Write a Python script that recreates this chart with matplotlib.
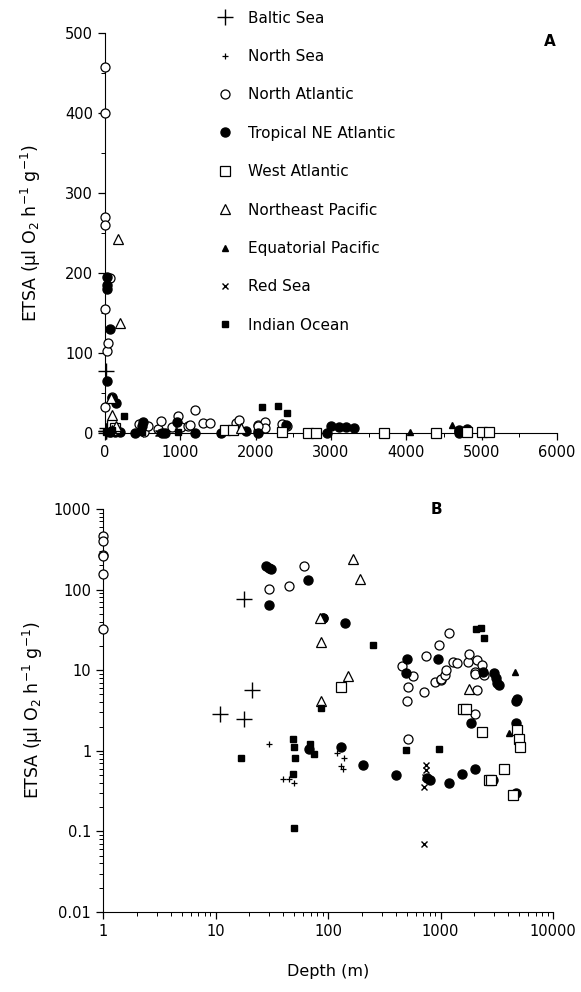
import numpy as np
import matplotlib.pyplot as plt
from matplotlib.ticker import MultipleLocator, FuncFormatter, NullFormatter

plt.rcParams['font.family'] = ['DejaVu Sans']

# data: depth (m) and ETSA (ul O2 h-1 g-1) per region
baltic_depth = [18, 11, 18, 21]
baltic_etsa = [77, 2.9, 2.5, 5.7]

northsea_depth = [30, 40, 45, 50, 120, 140, 130, 135]
northsea_etsa = [1.2, 0.45, 0.45, 0.40, 0.95, 0.82, 0.65, 0.6]

natl_depth = [1, 1, 1, 1, 1, 1, 30, 45, 61, 90, 455, 515, 505, 515, 570, 710, 740,
              890, 1000, 1010, 1100, 1130, 1190, 970, 1300, 1400, 1740, 1780, 2030,
              2130, 2350, 2420, 2030, 2130, 2030]
natl_etsa = [457, 400, 270, 260, 155, 32, 103, 112, 194, 45, 11.4, 6.2, 4.1, 1.4, 8.5,
             5.4, 15, 7.2, 7.5, 7.8, 8.8, 10.1, 29, 20.7, 12.7, 12.4, 12.7, 16, 9.6,
             13.5, 11.7, 8.8, 2.9, 5.7, 9.0]

trop_depth = [28, 30, 31, 30, 66, 68, 90, 141, 130, 205, 400, 495, 505, 760, 800, 950,
              1200, 1540, 1870, 2030, 2400, 2950, 3000, 3100, 3200, 3300, 4700, 4700,
              4800, 4700]
trop_etsa = [195, 185, 180, 65, 130, 1.05, 44, 38, 1.1, 0.67, 0.50, 9.3, 13.9, 0.46,
             0.44, 13.9, 0.40, 0.52, 2.2, 0.60, 9.6, 0.44, 9.3, 8.0, 7.0, 6.6, 2.2, 4.2,
             4.4, 0.30]

watl_depth = [130, 1590, 1700, 2350, 2700, 2800, 3700, 4400, 4800, 5000, 5100]
watl_etsa = [6.2, 3.3, 3.3, 1.72, 0.44, 0.44, 0.60, 0.28, 1.82, 1.41, 1.13]

nepac_depth = [167, 193, 85, 87, 150, 87, 1800]
nepac_etsa = [243, 137, 44, 22.6, 8.5, 4.1, 5.9]

eqpac_depth = [4050, 4600]
eqpac_etsa = [1.67, 9.6]

redsea_depth = [710, 740, 720, 730, 745]
redsea_etsa = [0.07, 0.67, 0.36, 0.47, 0.57]

indian_depth = [17, 49, 50, 51, 49, 50, 69, 75, 87, 250, 495, 975, 2080, 2300, 2420]
indian_etsa = [0.82, 1.41, 1.12, 0.82, 0.52, 0.11, 1.22, 0.92, 3.4, 20.7, 1.03, 1.06,
               32, 33.8, 25.4]

series = [
    ('Baltic Sea', baltic_depth, baltic_etsa, dict(marker='+', ms=11, mew=1.0, color='k')),
    ('North Sea', northsea_depth, northsea_etsa, dict(marker='+', ms=4, mew=0.9, color='k')),
    ('North Atlantic', natl_depth, natl_etsa, dict(marker='o', ms=6.5, mfc='white', mec='k', mew=0.9)),
    ('Tropical NE Atlantic', trop_depth, trop_etsa, dict(marker='o', ms=6.5, color='k')),
    ('West Atlantic', watl_depth, watl_etsa, dict(marker='s', ms=6.5, mfc='white', mec='k', mew=0.9)),
    ('Northeast Pacific', nepac_depth, nepac_etsa, dict(marker='^', ms=6.5, mfc='white', mec='k', mew=0.9)),
    ('Equatorial Pacific', eqpac_depth, eqpac_etsa, dict(marker='^', ms=4, color='k')),
    ('Red Sea', redsea_depth, redsea_etsa, dict(marker='x', ms=4, mew=1.0, color='k')),
    ('Indian Ocean', indian_depth, indian_etsa, dict(marker='s', ms=4.5, color='k')),
]

fig = plt.figure(figsize=(5.81, 9.92), dpi=100)
axA = fig.add_axes([105/581, 1-433/992, 452/581, 400/992])
axB = fig.add_axes([103/581, 1-912/992, 450/581, 403/992])

ylab = r'ETSA ($\mathregular{\mu}$l O$_2$ h$^{-1}$ g$^{-1}$)'

# panel A, linear
for name, d, e, st in series:
    d0 = [0 if v == 1 else v for v in d]
    axA.plot(d0, e, ls='none', label=name, clip_on=False, zorder=3, **st)
axA.set_xlim(0, 6000)
axA.set_ylim(0, 500)
axA.xaxis.set_major_locator(MultipleLocator(1000))
axA.xaxis.set_minor_locator(MultipleLocator(500))
axA.yaxis.set_major_locator(MultipleLocator(100))
axA.yaxis.set_minor_locator(MultipleLocator(50))
axA.set_ylabel(ylab, fontsize=12.5, labelpad=16)
axA.text(0.985, 0.98, 'A', transform=axA.transAxes, fontsize=11, fontweight='bold',
         ha='center', va='center')
axA.legend(loc='upper left', bbox_to_anchor=(210/581, 1-3/992), bbox_transform=fig.transFigure,
           frameon=False, fontsize=11, labelspacing=1.53, handletextpad=1.0,
           handlelength=1.0, borderpad=0, numpoints=1)

# panel B, log-log
for name, d, e, st in series:
    axB.plot(d, e, ls='none', clip_on=False, zorder=3, **st)
axB.set_xscale('log')
axB.set_yscale('log')
axB.set_xlim(1, 10000)
axB.set_ylim(0.01, 1000)
fmt = FuncFormatter(lambda v, p: '%g' % v)
axB.xaxis.set_major_formatter(fmt)
axB.yaxis.set_major_formatter(fmt)
axB.xaxis.set_minor_formatter(NullFormatter())
axB.yaxis.set_minor_formatter(NullFormatter())
axB.set_ylabel(ylab, fontsize=12.5, labelpad=6)
axB.set_xlabel('Depth (m)', fontsize=11.5, labelpad=18)
axB.text(0.74, 1.0, 'B', transform=axB.transAxes, fontsize=11, fontweight='bold',
         ha='center', va='center')

for ax in (axA, axB):
    for s in ('top', 'right'):
        ax.spines[s].set_visible(False)
    ax.tick_params(which='major', length=5, width=0.9, labelsize=10.5, direction='out')
    ax.tick_params(which='minor', length=3, width=0.7, direction='out')
    ax.set_facecolor('none')

fig.savefig('out.png', dpi=100)
